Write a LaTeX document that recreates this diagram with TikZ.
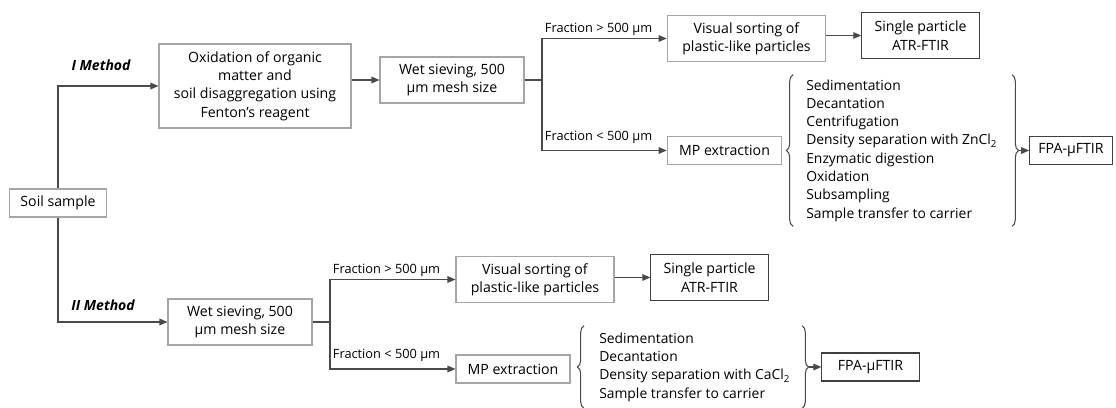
\documentclass[tikz,border=0pt]{standalone}
\usepackage{fontspec}
\setmainfont{Open Sans}
\usetikzlibrary{calc,arrows.meta,decorations.pathreplacing}
\definecolor{BoxGray}{HTML}{A6A6A6}
\definecolor{DGray}{HTML}{404040}
\definecolor{LGray}{HTML}{4A4A4A}

\tikzset{
    box/.style={draw=BoxGray, line width=0.8pt, align=center, inner sep=0pt,
        font=\fontsize{10.6}{13.7}\selectfont},
    darkbox/.style={box, draw=DGray},
    link/.style={LGray, line width=0.8pt},
    flow/.style={link, -{Triangle[length=6pt, width=5pt]}},
    fraclabel/.style={anchor=south west, inner sep=2pt, font=\fontsize{9.6}{11}\selectfont},
    methodlabel/.style={font=\fontsize{10.5}{12}\selectfont\bfseries\itshape},
    steplist/.style={anchor=west, align=left, inner ysep=0pt,
        font=\fontsize{10.4}{13.7}\selectfont},
    curly/.style={link, decorate, decoration={brace, amplitude=5pt}}
}

\begin{document}
\begin{tikzpicture}[x=0.75pt, y=-0.75pt]
\useasboundingbox (0,0) rectangle (1116,407);

\node[box, minimum width=72.75pt, minimum height=21pt] (soil) at (58,203) {Soil sample};

% I Method
\node[methodlabel] (meth1) at (101,65) {I Method};
\node[box, minimum width=144pt, minimum height=63pt] (oxid) at (255,86)
    {Oxidation of organic\\matter and\\soil disaggregation using\\Fenton’s reagent};
\node[box, minimum width=108pt, minimum height=34.5pt] (sieve1) at (452,80) {Wet sieving, 500\\µm mesh size};
\coordinate (split1) at (542,80);
\node[box, minimum width=119pt, minimum height=35pt] (sort1) at (746.5,38.5) {Visual sorting of\\plastic-like particles};
\node[darkbox, minimum width=88pt, minimum height=35pt] (ftir1) at (920.5,35.5) {Single particle\\ATR-FTIR};
\node[box, minimum width=86pt, minimum height=20.5pt] (mpx1) at (724.5,150.5) {MP extraction};
\node[steplist, inner xsep=9.75pt, minimum height=113.25pt] (steps1) at (793,150.5)
    {Sedimentation\\Decantation\\Centrifugation\\Density separation with ZnCl\textsubscript{2}\\Enzymatic digestion\\Oxidation\\Subsampling\\Sample transfer to carrier};
\node[darkbox, minimum width=62pt, minimum height=21.5pt] (fpa1) at (1071,150.5) {FPA-µFTIR};

\node[fraclabel] (gt1) at (split1 |- sort1.west) {Fraction > 500 µm};
\node[fraclabel, yshift=3pt] (lt1) at (split1 |- mpx1.west) {Fraction < 500 µm};

% II Method
\node[methodlabel] (meth2) at (103,305) {II Method};
\node[box, minimum width=108pt, minimum height=34.5pt] (sieve2) at (240,322) {Wet sieving, 500\\µm mesh size};
\coordinate (split2) at (330,322);
\node[box, minimum width=118.5pt, minimum height=34pt] (sort2) at (535,279.5) {Visual sorting of\\plastic-like particles};
\node[darkbox, minimum width=88pt, minimum height=35pt] (ftir2) at (709.5,277.5) {Single particle\\ATR-FTIR};
\node[box, minimum width=85.5pt, minimum height=21pt] (mpx2) at (513,369) {MP extraction};
\node[steplist, inner xsep=11.25pt, minimum height=61.5pt] (steps2) at (584,367)
    {Sedimentation\\Decantation\\Density separation with CaCl\textsubscript{2}\\Sample transfer to carrier};
\node[darkbox, minimum width=73pt, minimum height=21pt] (fpa2) at (870.5,367) {FPA-µFTIR};

\node[fraclabel] (gt2) at (split2 |- sort2.west) {Fraction > 500 µm};
\node[fraclabel, yshift=3pt] (lt2) at (split2 |- mpx2.west) {Fraction < 500 µm};

\draw[flow] (soil.north) |- (oxid.west);
\draw[flow] (soil.south) |- (sieve2.west);

\draw[flow] (oxid.east |- sieve1.west) -- (sieve1.west);
\draw[link] (sieve1.east) -- (split1);
\draw[flow] (split1) |- (sort1.west);
\draw[flow] (split1) |- (mpx1.west);
\draw[flow] (ftir1.west -| sort1.east) -- (ftir1.west);
\draw[curly] (steps1.south west) -- (steps1.north west);
\draw[curly] ([xshift=164.25pt]steps1.north west) -- ([xshift=164.25pt]steps1.south west);
\draw[flow] ([xshift=169.5pt]steps1.west) -- (fpa1.west);

\draw[link] (sieve2.east) -- (split2);
\draw[flow] (split2) |- (sort2.west);
\draw[flow] (split2) |- (mpx2.west);
\draw[flow] (ftir2.west -| sort2.east) -- (ftir2.west);
\draw[curly] (steps2.south west) -- (steps2.north west);
\draw[curly] ([xshift=163.5pt]steps2.north west) -- ([xshift=163.5pt]steps2.south west);
\draw[flow] ([xshift=168.75pt]steps2.west) -- (fpa2.west);

\end{tikzpicture}
\end{document}
